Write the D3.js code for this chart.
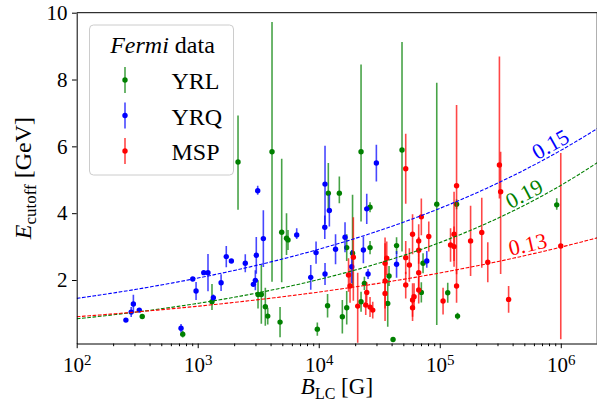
<!DOCTYPE html>
<html><head><meta charset="utf-8">
<script src="https://cdn.jsdelivr.net/npm/d3@7"></script>
<style>
body{margin:0;background:#fff;}
svg{display:block;}
svg text{font-family:"Liberation Serif","DejaVu Serif",serif !important;fill:#000;}
</style>
</head><body>
<svg id="chart" width="597" height="404"></svg>
<script>
// ---------------- data ----------------
const categories = ["YRL", "YRQ", "MSP"];

const yrlB  = [348, 752, 1312, 2153, 3150, 3355, 3620, 3790, 4111, 4790, 4943, 5417, 5573, 9735, 11830, 12000, 14800, 15670, 17030, 17030, 19030, 22370, 22370, 23840, 26540, 26540, 37170, 38100, 41120, 43970, 48770, 70440, 72770, 94460, 116400, 137700, 140300, 926000];
const yrlE  = [0.91, 0.38, 1.35, 5.53, 1.57, 1.57, 1.20, 0.92, 5.84, 0.74, 3.43, 3.25, 3.20, 0.53, 1.23, 4.60, 4.60, 0.90, 1.17, 2.97, 2.80, 5.84, 1.35, 1.90, 4.18, 2.97, 1.30, 2.12, 0.22, 3.03, 5.89, 1.63, 2.50, 4.27, 1.62, 4.27, 0.92, 4.25];
const yrlLo = [0.06, 0.10, 0.25, 1.43, 0.42, 0.88, 0.57, 0.25, 3.89, 0.45, 1.50, 0.50, 0.30, 0.20, 0.35, 0.55, 0.30, 0.50, 0.50, 0.40, 1.00, 2.09, 0.30, 0.20, 0.15, 0.20, 0.70, 0.30, 0.05, 0.25, 3.04, 0.30, 0.30, 3.62, 0.30, 0.15, 0.10, 0.15];
const yrlHi = [0.06, 0.10, 0.53, 1.39, 0.42, 0.88, 0.57, 0.25, 3.88, 0.45, 2.20, 0.75, 0.30, 0.20, 0.35, 0.90, 0.50, 0.50, 0.50, 0.40, 1.75, 2.61, 0.30, 0.20, 0.15, 0.20, 0.70, 0.30, 0.05, 0.25, 3.23, 0.30, 0.30, 3.63, 0.30, 0.15, 0.10, 0.20];

const yrqB  = [255, 282, 294, 329, 728, 910, 969, 1122, 1216, 1346, 1560, 1722, 1897, 2472, 2884, 2993, 3048, 3486, 3131, 6577, 8590, 9503, 11270, 11220, 11270, 12240, 13770, 16490, 18740, 23380, 24930, 25560, 29940, 43970, 78130];
const yrqE  = [0.80, 1.04, 1.28, 1.10, 0.56, 2.03, 1.67, 2.22, 2.22, 1.47, 1.92, 2.70, 2.57, 2.50, 1.87, 1.99, 2.74, 3.24, 4.67, 3.35, 2.08, 2.82, 4.87, 3.58, 2.18, 4.08, 2.92, 3.28, 2.40, 2.90, 4.13, 2.18, 5.50, 2.47, 2.57];
const yrqLo = [0.05, 0.15, 0.25, 0.06, 0.12, 0.05, 0.27, 0.05, 0.56, 0.08, 0.25, 0.32, 0.05, 0.27, 0.06, 0.30, 0.55, 0.85, 0.12, 0.12, 0.37, 0.33, 1.20, 0.35, 0.33, 0.48, 0.45, 0.45, 0.50, 0.40, 0.45, 0.15, 0.55, 0.40, 0.20];
const yrqHi = [0.05, 0.15, 0.28, 0.06, 0.12, 0.05, 0.27, 0.05, 0.56, 0.10, 0.25, 0.32, 0.05, 0.27, 0.06, 0.30, 0.55, 0.85, 0.15, 0.20, 0.37, 0.33, 1.15, 0.35, 0.33, 0.48, 0.45, 0.45, 0.50, 0.40, 0.45, 0.15, 0.55, 0.40, 0.30];

const mspB  = [17630, 18140, 19320, 20990, 24460, 24930, 26540, 27940, 35320, 36470, 35320, 35320, 52340, 52340, 52340, 56080, 59610, 66990, 70440, 81140, 66990, 66990, 61350, 59610, 59610, 106500, 122800, 131300, 131300, 137700, 137700, 179800, 222400, 249400, 311200, 318500, 370700, 1000000, 66990];
const mspE  = [2.15, 1.82, 2.68, 1.22, 1.25, 1.63, 1.19, 1.10, 1.97, 2.65, 2.50, 1.60, 1.85, 2.67, 5.33, 2.45, 3.37, 3.17, 3.89, 3.30, 2.22, 1.70, 1.50, 1.40, 1.17, 1.37, 3.05, 3.00, 3.37, 4.82, 1.82, 3.17, 3.42, 2.53, 5.44, 4.64, 1.42, 3.02, 2.89];
const mspLo = [0.5, 0.5, 1.3, 1.1, 0.3, 0.3, 0.3, 0.25, 1.2, 0.5, 0.6, 0.45, 0.4, 0.5, 1.05, 0.5, 0.6, 0.5, 0.55, 0.45, 0.45, 0.4, 0.4, 0.5, 0.4, 0.4, 0.5, 0.6, 0.8, 2.65, 0.5, 1.05, 1.05, 0.6, 1.0, 2.46, 0.4, 2.79, 0.4];
const mspHi = [0.5, 0.5, 1.2, 1.0, 0.3, 0.3, 0.3, 0.25, 1.3, 0.5, 0.6, 0.45, 0.4, 0.5, 1.05, 0.5, 0.6, 0.5, 0.55, 0.45, 0.45, 0.4, 0.4, 0.5, 0.4, 0.4, 0.5, 0.6, 1.27, 2.42, 0.5, 1.05, 1.04, 0.6, 3.25, 1.2, 0.4, 2.78, 0.4];

// power-law fits E = norm * B^slope (slope is the label)
const fitSlope = [0.19, 0.152, 0.13];
const fitNorm  = [0.35, 0.72, 0.495];
const fitLabelB = [5.47e5, 9.06e5, 5.57e5];

const xTickExps = [2, 3, 4, 5, 6];
const yTicks = [2, 4, 6, 8, 10];

// ---------------- layout ----------------
const FONT = '"Liberation Serif","DejaVu Serif",serif';
const colors = {YRL: "#008000", YRQ: "#0000ff", MSP: "#ff0000"};
const svg = d3.select("#chart");
const L = 76.7, R = 597.2, T = 12.7, B = 343.5;

const x = d3.scaleLog().domain([1e2, 2e6]).range([L, R]);
const y = d3.scaleLinear().domain([0.1, 10]).range([B, T]);

svg.append("defs").append("clipPath").attr("id", "plotclip")
  .append("rect").attr("x", L).attr("y", T).attr("width", R - L).attr("height", B - T);

const plot = svg.append("g").attr("clip-path", "url(#plotclip)");

const series = [
  {name: "YRL", B: yrlB, E: yrlE, lo: yrlLo, hi: yrlHi},
  {name: "YRQ", B: yrqB, E: yrqE, lo: yrqLo, hi: yrqHi},
  {name: "MSP", B: mspB, E: mspE, lo: mspLo, hi: mspHi}
];

series.forEach(s => {
  const pts = s.B.map((b, i) => ({b, e: s.E[i], lo: s.lo[i], hi: s.hi[i]}));
  const g = plot.append("g");
  g.selectAll("line.err").data(pts).enter().append("line")
    .attr("x1", d => x(d.b)).attr("x2", d => x(d.b))
    .attr("y1", d => y(d.e - d.lo)).attr("y2", d => y(d.e + d.hi))
    .attr("stroke", colors[s.name]).attr("stroke-width", 1.6).attr("stroke-opacity", 0.72);
  g.selectAll("circle").data(pts).enter().append("circle")
    .attr("cx", d => x(d.b)).attr("cy", d => y(d.e)).attr("r", 2.7)
    .attr("fill", colors[s.name]);
});

// fit lines
const fitColors = ["#008000", "#0000ff", "#ff0000"];
const bSamples = d3.range(0, 201).map(i => Math.pow(10, 2 + i * (Math.log10(2e6) - 2) / 200));
fitSlope.forEach((k, j) => {
  const f = b => fitNorm[j] * Math.pow(b, k);
  plot.append("path")
    .attr("d", d3.line().x(b => x(b)).y(b => y(f(b)))(bSamples))
    .attr("fill", "none").attr("stroke", fitColors[j]).attr("stroke-width", 1.1)
    .attr("stroke-dasharray", "3.7,1.6");
  const bl = fitLabelB[j];
  const px = x(bl), py = y(f(bl));
  const px2 = x(bl * 1.1), py2 = y(f(bl * 1.1));
  const ang = Math.atan2(py2 - py, px2 - px) * 180 / Math.PI;
  svg.append("text")
    .attr("transform", `translate(${px},${py}) rotate(${ang})`)
    .attr("dy", -3).attr("text-anchor", "middle").attr("font-family", FONT)
    .attr("font-size", 22).style("fill", fitColors[j])
    .text(k.toFixed(2));
});

// axes
const xAxis = svg.append("g").attr("transform", `translate(0,${B})`)
  .call(d3.axisBottom(x).tickValues(xTickExps.map(e => Math.pow(10, e)))
    .tickSize(4.7).tickSizeOuter(0).tickPadding(8.5).tickFormat(""));
xAxis.attr("font-family", FONT);
xAxis.selectAll(".tick text").each(function(d, i) {
  const t = d3.select(this).attr("font-size", 21).attr("font-family", FONT);
  t.append("tspan").text("10");
  t.append("tspan").attr("dy", "-0.45em").attr("font-size", 15).text(xTickExps[i]);
});
// minor ticks
const minor = [];
for (let e = 2; e <= 6; e++) for (let m = 2; m <= 9; m++) { const v = m * Math.pow(10, e); if (v <= 2e6) minor.push(v); }
svg.append("g").attr("transform", `translate(0,${B})`)
  .call(d3.axisBottom(x).tickValues(minor).tickSize(2.7).tickSizeOuter(0).tickFormat(""))
  .call(g => g.select(".domain").remove());

const yAxis = svg.append("g").attr("transform", `translate(${L},0)`)
  .call(d3.axisLeft(y).tickValues(yTicks).tickSize(4.7).tickSizeOuter(0).tickPadding(4.5).tickFormat(d3.format("d")));
yAxis.attr("font-family", FONT);
yAxis.selectAll(".tick text").attr("font-size", 21).attr("font-family", FONT);

svg.selectAll(".domain, .tick line").attr("stroke", "#000").attr("stroke-width", 1);
// top & right spines
svg.append("line").attr("x1", L).attr("x2", R).attr("y1", T).attr("y2", T).attr("stroke", "#000");
svg.append("line").attr("x1", R).attr("x2", R).attr("y1", T).attr("y2", B).attr("stroke", "#000");

// axis labels
const xl = svg.append("text").attr("x", (L + R) / 2).attr("y", 394).attr("text-anchor", "middle")
  .attr("font-size", 23).attr("font-family", FONT);
xl.append("tspan").attr("font-style", "italic").text("B");
xl.append("tspan").attr("dy", 5).attr("font-size", 16).text("LC");
xl.append("tspan").attr("dy", -5).text(" [G]");

const yl = svg.append("text").attr("transform", `translate(31,${(T + B) / 2}) rotate(-90)`)
  .attr("text-anchor", "middle").attr("font-size", 24).attr("font-family", FONT);
yl.append("tspan").attr("font-style", "italic").text("E");
yl.append("tspan").attr("dy", 5).attr("font-size", 17).text("cutoff");
yl.append("tspan").attr("dy", -5).text(" [GeV]");

// legend
const lg = svg.append("g").attr("font-family", FONT);
lg.append("rect").attr("x", 89.5).attr("y", 25).attr("width", 144).attr("height", 150).attr("rx", 4)
  .attr("fill", "#fff").attr("fill-opacity", 0.8).attr("stroke", "#cccccc").attr("stroke-width", 1);
const title = lg.append("text").attr("x", 162.5).attr("y", 53).attr("text-anchor", "middle").attr("font-size", 24);
title.append("tspan").attr("font-style", "italic").text("Fermi");
title.append("tspan").text(" data");
categories.forEach((c, i) => {
  const cy = 80 + i * 35.5;
  lg.append("line").attr("x1", 125).attr("x2", 125).attr("y1", cy - 13).attr("y2", cy + 13)
    .attr("stroke", colors[c]).attr("stroke-width", 1.6).attr("stroke-opacity", 0.72);
  lg.append("circle").attr("cx", 125).attr("cy", cy).attr("r", 2.7).attr("fill", colors[c]);
  lg.append("text").attr("x", 171.5).attr("y", cy + 9).attr("font-size", 24).text(c);
});
</script>
</body></html>
